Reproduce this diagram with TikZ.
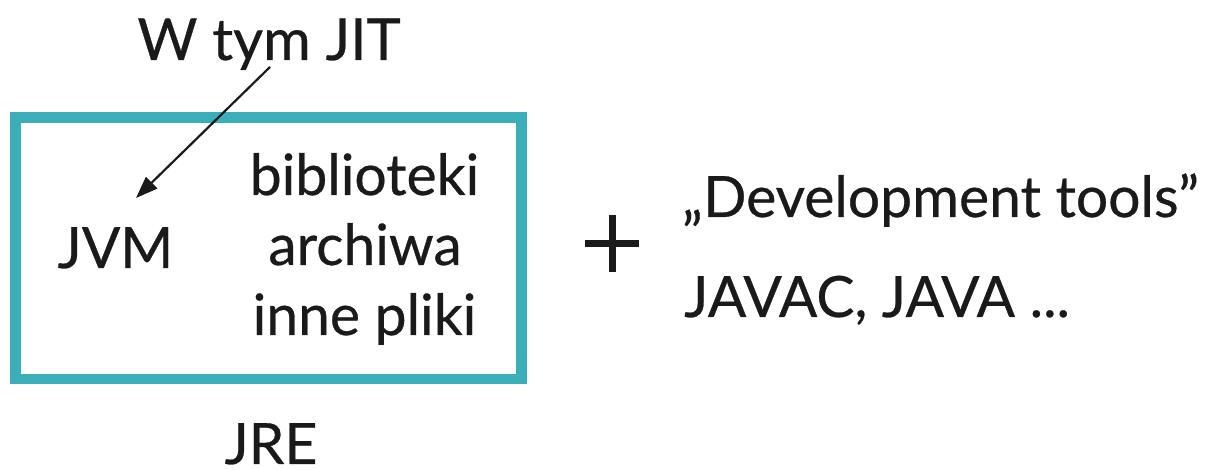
\documentclass[tikz,border=0pt]{standalone}
\usepackage{fontspec}
\setmainfont{Lato}
\usetikzlibrary{arrows.meta,calc}
\definecolor{teal1}{HTML}{3AAFB9}
\definecolor{ink}{HTML}{1A1A1A}
\newcommand{\heavier}{\addfontfeature{FakeBold=0.5}}
\begin{document}
\begin{tikzpicture}[x=1pt,y=-1pt,
  txt/.style={font=\fontsize{57}{70}\selectfont\heavier, inner sep=0pt, text=ink, anchor=base},
  conn/.style={line width=2.2pt, ink, -{Triangle[length=22pt,width=16pt]}},
  plusbar/.style={line width=7pt, ink}]
\useasboundingbox (0,0) rectangle (1211,470);
\draw[teal1, line width=10.5pt] (15.3,117.7) rectangle (521.3,379);
\node[txt, font=\fontsize{58}{70}\selectfont\heavier] (jit) at (269,60) {W tym JIT};
\node[txt] (jvm) at (115.5,268) {JVM};
\node[txt] (bib) at (364.5,195) {biblioteki};
\node[txt] (arc) at (365,265) {archiwa};
\node[txt] (inn) at (364.5,335) {inne pliki};
\node[txt, text depth=0pt] (jre) at (271,464) {JRE};
\node[txt, anchor=base west] (dev) at (682,217) {„Development tools”};
\node[txt, anchor=base west] (jav) at (684,317) {JAVAC, JAVA ...};
\coordinate (plus) at (612,244);
\draw[plusbar] ($(plus)+(-27,0)$) -- ($(plus)+(27,0)$);
\draw[plusbar] ($(plus)+(0,-28.5)$) -- ($(plus)+(0,28.5)$);
\coordinate (from) at (270,67);
\coordinate (tip) at (136,198);
\draw[conn] (from) -- (tip);
\end{tikzpicture}
\end{document}
